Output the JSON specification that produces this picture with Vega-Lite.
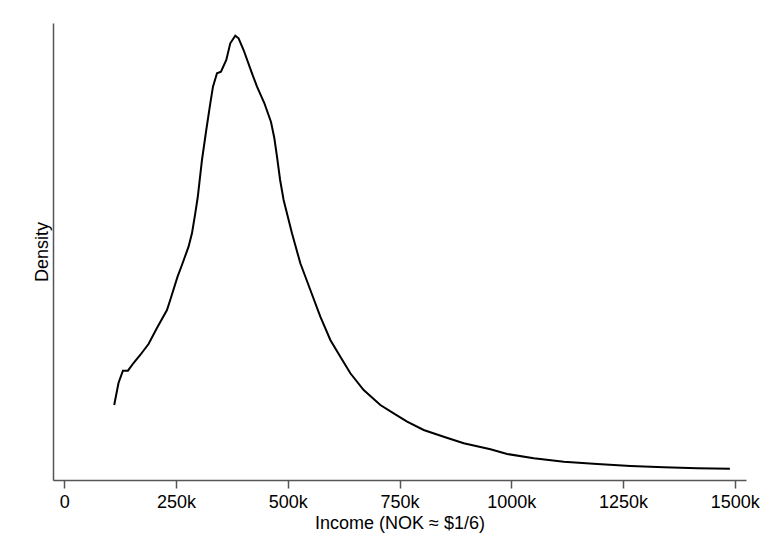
{
  "$schema": "https://vega.github.io/schema/vega-lite/v6.json",
  "width": 693,
  "height": 457,
  "autosize": {"type": "none"},
  "padding": {"left": 53, "top": 23, "right": 15, "bottom": 75},
  "background": "white",
  "config": {
    "view": {"stroke": null},
    "font": "Liberation Sans",
    "axis": {"grid": false, "labelFont": "Liberation Sans", "titleFont": "Liberation Sans", "labelColor": "#000", "titleColor": "#000", "titleFontWeight": "normal", "labelFontSize": 18, "titleFontSize": 18, "domainColor": "#555", "tickColor": "#555", "domainWidth": 1.5, "tickWidth": 1.5}
  },
  "data": {
    "values": [
      {"income": 111900, "density": 75},
      {"income": 121500, "density": 97},
      {"income": 131400, "density": 109.3},
      {"income": 142600, "density": 109.3},
      {"income": 155100, "density": 117},
      {"income": 170100, "density": 125},
      {"income": 188700, "density": 136},
      {"income": 207500, "density": 152},
      {"income": 229900, "density": 170},
      {"income": 237200, "density": 180},
      {"income": 253600, "density": 203.3},
      {"income": 263400, "density": 215},
      {"income": 278200, "density": 233.3},
      {"income": 285800, "density": 246.7},
      {"income": 293200, "density": 266.7},
      {"income": 298800, "density": 283},
      {"income": 308200, "density": 320},
      {"income": 317800, "density": 350},
      {"income": 326800, "density": 376.7},
      {"income": 332800, "density": 393.3},
      {"income": 341800, "density": 406.7},
      {"income": 350700, "density": 408.3},
      {"income": 362600, "density": 420},
      {"income": 371500, "density": 436.7},
      {"income": 382700, "density": 444.3},
      {"income": 390100, "density": 441.7},
      {"income": 401300, "density": 430},
      {"income": 420100, "density": 406.7},
      {"income": 431300, "density": 393.3},
      {"income": 447600, "density": 377},
      {"income": 462600, "density": 358},
      {"income": 470000, "density": 342},
      {"income": 476000, "density": 323.3},
      {"income": 483000, "density": 300},
      {"income": 490800, "density": 280},
      {"income": 509500, "density": 246.7},
      {"income": 528200, "density": 216.7},
      {"income": 550600, "density": 190},
      {"income": 572900, "density": 163.3},
      {"income": 595300, "density": 140},
      {"income": 617700, "density": 123.3},
      {"income": 640100, "density": 106.7},
      {"income": 669900, "density": 90},
      {"income": 707200, "density": 75},
      {"income": 737000, "density": 66.7},
      {"income": 767000, "density": 58.3},
      {"income": 804100, "density": 50},
      {"income": 848900, "density": 43.3},
      {"income": 893600, "density": 36.7},
      {"income": 953400, "density": 30.7},
      {"income": 990800, "density": 26},
      {"income": 1050300, "density": 21.7},
      {"income": 1117500, "density": 18.3},
      {"income": 1192200, "density": 16},
      {"income": 1266700, "density": 14},
      {"income": 1341300, "density": 12.7},
      {"income": 1416000, "density": 11.7},
      {"income": 1489000, "density": 11.3}
    ]
  },
  "mark": {"type": "line", "color": "#000", "strokeWidth": 2, "interpolate": "linear"},
  "encoding": {
    "x": {
      "field": "income", "type": "quantitative",
      "scale": {"domain": [-25000, 1525000], "nice": false, "zero": false},
      "axis": {"title": "Income (NOK ≈ $1/6)", "values": [0, 250000, 500000, 750000, 1000000, 1250000, 1500000], "labelExpr": "datum.value == 0 ? '0' : (datum.value / 1000) + 'k'", "tickSize": 8, "labelPadding": 5, "titlePadding": 3, "labelFlush": false, "labelOverlap": false}
    },
    "y": {
      "field": "density", "type": "quantitative",
      "scale": {"domain": [0, 457], "nice": false},
      "axis": {"title": "Density", "labels": false, "ticks": false, "titlePadding": 2}
    }
  }
}
